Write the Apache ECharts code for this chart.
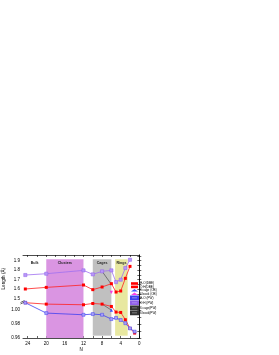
<!DOCTYPE html>
<html><head><meta charset="utf-8">
<script src="https://cdn.jsdelivr.net/npm/echarts@6/dist/echarts.min.js"></script>
<style>html,body{margin:0;padding:0;background:#fff}#c{width:279px;height:355px}</style>
</head><body><div id="c"></div>
<script>
// ---- data ----
const ohN = [24.5, 20, 12, 10, 8, 6, 5, 4, 3, 2];
const ohDBE = [1.602, 1.619, 1.644, 1.595, 1.623, 1.658, 1.570, 1.581, 1.714, 1.840];
const ohPW  = [1.749, 1.763, 1.798, 1.756, 1.788, 1.798, 1.675, 1.700, 1.823, 1.910];
const hoN = [24.5, 20, 12, 10, 8, 6, 5, 4, 3, 2, 1];
const hoDBE = [1.0100, 1.0080, 1.0071, 1.0089, 1.0080, 1.0047, 0.9967, 0.9962, 0.9859, 0.9736, 0.9670];
const hoPW  = [1.0100, 0.9953, 0.9929, 0.9939, 0.9929, 0.9868, 0.9885, 0.9855, 0.9810, 0.9736, 0.9690];
const cageOB = [[6, 0.9995]];
const bookOB = [[6, 1.567]];
const cagePW = [[8, 1.788], [6, 1.650]];
const bookPW = [[8, 1.0080], [6, 0.9995]];
const xTicks = [0, 4, 8, 12, 16, 20, 24];
const upperTicks = [1.5, 1.6, 1.7, 1.8, 1.9];
const lowerTicks = [0.96, 0.98, 1.00];
const regions = [
  {name: 'Bulk', from: 25, to: 20, color: 'rgba(0,0,0,0)'},
  {name: 'Clusters', from: 20, to: 12, color: '#DA95E2'},
  {name: 'Cages', from: 10, to: 6, color: '#C0C0C0'},
  {name: 'Rings', from: 5.2, to: 2.5, color: '#E8E8A0'}
];
const legendNames = ['H-O(DBE)', 'O:H(DBE)', '6 cage (OB)', '6 book (OB)', 'H-O (PW)', 'O:H (PW)', '6 cage(PW)', '6 book(PW)'];

const pair = (xs, ys) => xs.map((x, i) => [x, ys[i]]);
const FONT = 'Liberation Sans';

const chart = echarts.init(document.getElementById('c'), null, {renderer: 'canvas'});

function regionAreas(top, bottomFull, bottomShort) {
  return regions.map(r => [
    {xAxis: r.from, yAxis: top, itemStyle: {color: r.color},
     label: top > 1.5 ? {show: true, formatter: r.name, position: 'insideTop', distance: 2, fontSize: 3.6, fontWeight: 'bold', color: '#222', fontFamily: FONT} : {show: false}},
    {xAxis: r.to, yAxis: r.name === 'Clusters' ? bottomFull : bottomShort}
  ]);
}

const L = 23, W = 116.3;
const axisLineStyle = {lineStyle: {color: '#000', width: 0.7}};
const tickStyle = {inside: true, length: 2, lineStyle: {color: '#000', width: 0.6}};
const legendIcons = ['rect', 'rect', 'triangle', 'triangle', 'rect', 'rect', 'rect', 'rect'];

const option = {
  animation: false,
  textStyle: {fontFamily: FONT},
  grid: [
    {left: L, top: 255, width: W, height: 47},
    {left: L, top: 302, width: W, height: 36}
  ],
  xAxis: [
    {gridIndex: 0, type: 'value', min: 0, max: 25, inverse: true, position: 'top',
     axisLine: axisLineStyle, axisTick: Object.assign({customValues: [0,2,4,6,8,10,12,14,16,18,20,22,24]}, tickStyle),
     axisLabel: {show: false}, splitLine: {show: false}},
    {gridIndex: 1, type: 'value', min: 0, max: 25, inverse: true, position: 'bottom',
     name: 'N', nameLocation: 'middle', nameGap: 9, nameTextStyle: {fontSize: 4.5, color: '#000', fontFamily: FONT},
     axisLine: axisLineStyle, axisTick: Object.assign({customValues: [0,2,4,6,8,10,12,14,16,18,20,22,24]}, tickStyle),
     axisLabel: {customValues: xTicks, fontSize: 4.5, color: '#000', margin: 3, fontFamily: FONT}, splitLine: {show: false}}
  ],
  yAxis: [
    {gridIndex: 0, type: 'value', min: 1.465, max: 1.96, position: 'left',
     axisLine: axisLineStyle, axisTick: Object.assign({customValues: [1.5,1.55,1.6,1.65,1.7,1.75,1.8,1.85,1.9,1.95]}, tickStyle),
     axisLabel: {customValues: upperTicks, formatter: v => v.toFixed(1), fontSize: 4.5, color: '#000', margin: 3, fontFamily: FONT},
     splitLine: {show: false}},
    {gridIndex: 1, type: 'value', min: 0.96, max: 1.011, position: 'left',
     axisLine: axisLineStyle, axisTick: Object.assign({customValues: [0.96,0.97,0.98,0.99,1.00,1.01]}, tickStyle),
     axisLabel: {customValues: lowerTicks, formatter: v => v.toFixed(2), fontSize: 4.5, color: '#000', margin: 3, fontFamily: FONT},
     splitLine: {show: false}},
    {gridIndex: 0, type: 'value', min: 1.465, max: 1.96, position: 'right',
     axisLine: axisLineStyle, axisTick: Object.assign({customValues: [1.5,1.55,1.6,1.65,1.7,1.75,1.8,1.85,1.9,1.95]}, tickStyle),
     axisLabel: {show: false}, splitLine: {show: false}},
    {gridIndex: 1, type: 'value', min: 0.96, max: 1.011, position: 'right',
     axisLine: axisLineStyle, axisTick: Object.assign({customValues: [0.96,0.97,0.98,0.99,1.00,1.01]}, tickStyle),
     axisLabel: {show: false}, splitLine: {show: false}}
  ],
  legend: {
    orient: 'vertical', left: 130, top: 282, itemGap: 0.4, itemWidth: 7, itemHeight: 2.6,
    padding: 0, data: legendNames.map((n, i) => ({name: n, icon: legendIcons[i]})),
    textStyle: {fontSize: 3.1, color: '#000', padding: [0, 0, 0, -3], fontFamily: FONT}
  },
  graphic: [
    {type: 'text', left: 1, top: 268, rotation: Math.PI / 2,
     style: {text: 'Length (Å)', fontSize: 4.6, fill: '#000', fontFamily: FONT}},
    {type: 'text', x: 63, y: 279, style: {text: 'O:H', fontSize: 6.5, fill: '#000', align: 'center', verticalAlign: 'middle', fontFamily: FONT}},
    {type: 'text', x: 63, y: 309, style: {text: 'H-O', fontSize: 7, fill: '#000', align: 'center', verticalAlign: 'middle', fontFamily: FONT}},
    {type: 'line', shape: {x1: 20.5, y1: 302.5, x2: 24.5, y2: 300.5}, style: {stroke: '#000', lineWidth: 0.6}},
    {type: 'line', shape: {x1: 20.5, y1: 304, x2: 24.5, y2: 302}, style: {stroke: '#000', lineWidth: 0.6}}
  ],
  series: [
    {name: 'H-O(DBE)', type: 'line', xAxisIndex: 1, yAxisIndex: 1, data: pair(hoN, hoDBE),
     symbol: 'rect', symbolSize: 3, lineStyle: {color: '#FF2020', width: 0.8}, itemStyle: {color: '#FF0000'},
     markArea: {silent: true, data: regionAreas(1.011, 0.96, 0.9633)}, z: 3},
    {name: 'O:H(DBE)', type: 'line', xAxisIndex: 0, yAxisIndex: 0, data: pair(ohN, ohDBE),
     symbol: 'rect', symbolSize: 3, lineStyle: {color: '#FF2020', width: 0.8}, itemStyle: {color: '#FF0000'},
     markArea: {silent: true, data: regionAreas(1.915, 1.465, 1.465)}, z: 3},
    {name: '6 cage (OB)', type: 'scatter', xAxisIndex: 1, yAxisIndex: 1, data: cageOB,
     symbol: 'triangle', symbolSize: 3.2, itemStyle: {color: '#1030FF'}, z: 5},
    {name: '6 book (OB)', type: 'scatter', xAxisIndex: 0, yAxisIndex: 0, data: bookOB,
     symbol: 'triangle', symbolRotate: 180, symbolSize: 3.2, itemStyle: {color: '#FF10E0'}, z: 5},
    {name: 'H-O (PW)', type: 'line', xAxisIndex: 1, yAxisIndex: 1, data: pair(hoN, hoPW),
     symbol: 'rect', symbolSize: 3, lineStyle: {color: '#4040F0', width: 0.8},
     itemStyle: {color: '#A8A0F8', borderColor: '#4040F0', borderWidth: 0.5}, z: 4},
    {name: 'O:H (PW)', type: 'line', xAxisIndex: 0, yAxisIndex: 0, data: pair(ohN, ohPW),
     symbol: 'rect', symbolSize: 3.2, lineStyle: {color: '#A070F0', width: 0.8},
     itemStyle: {color: '#B898F8', borderColor: '#9060E8', borderWidth: 0.5}, z: 4},
    {name: '6 cage(PW)', type: 'line', xAxisIndex: 0, yAxisIndex: 0, data: cagePW,
     symbol: 'rect', symbolSize: 2, showSymbol: false, lineStyle: {color: '#222', width: 0.5},
     itemStyle: {color: '#888', borderColor: '#333', borderWidth: 0.4}, z: 2},
    {name: '6 book(PW)', type: 'line', xAxisIndex: 1, yAxisIndex: 1, data: bookPW,
     symbol: 'rect', symbolSize: 2, showSymbol: false, lineStyle: {color: '#222', width: 0.5},
     itemStyle: {color: '#999', borderColor: '#333', borderWidth: 0.4}, z: 2}
  ]
};
chart.setOption(option);
</script></body></html>
